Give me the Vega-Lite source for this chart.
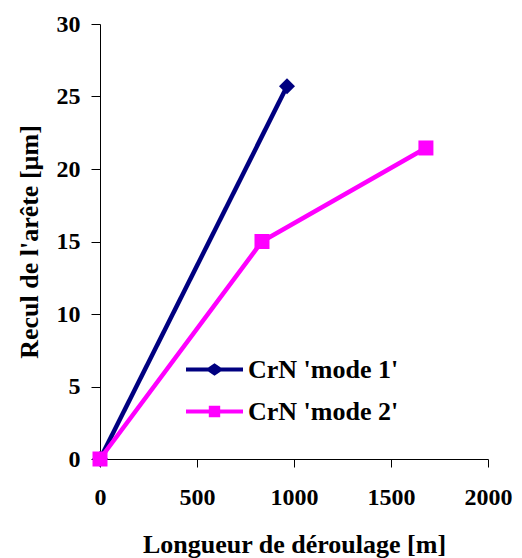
{
  "$schema": "https://vega.github.io/schema/vega-lite/v6.json",
  "width": 388,
  "height": 435,
  "autosize": {"type": "none"},
  "padding": {"left": 100, "top": 24, "right": 34, "bottom": 99},
  "background": "white",
  "config": {
    "view": {"stroke": null},
    "font": "Liberation Serif",
    "axis": {"grid": false, "domainColor": "black", "tickColor": "black"}
  },
  "data": {
    "values": [
      {"serie": "CrN 'mode 1'", "longueur": 0, "recul": 0},
      {"serie": "CrN 'mode 1'", "longueur": 964, "recul": 25.7},
      {"serie": "CrN 'mode 2'", "longueur": 0, "recul": 0},
      {"serie": "CrN 'mode 2'", "longueur": 835, "recul": 15},
      {"serie": "CrN 'mode 2'", "longueur": 1680, "recul": 21.45}
    ]
  },
  "encoding": {
    "x": {
      "field": "longueur",
      "type": "quantitative",
      "scale": {"domain": [0, 2000], "nice": false, "zero": true},
      "axis": {
        "title": "Longueur de déroulage [m]",
        "values": [0, 500, 1000, 1500, 2000],
        "format": "d",
        "tickSize": 8,
        "labelPadding": 18,
        "titlePadding": 22,
        "labelFlush": false,
        "labelFont": "Liberation Serif",
        "labelFontWeight": "bold",
        "labelFontSize": 24,
        "labelColor": "black",
        "titleFont": "Liberation Serif",
        "titleFontWeight": "bold",
        "titleFontSize": 26,
        "titleColor": "black"
      }
    },
    "y": {
      "field": "recul",
      "type": "quantitative",
      "scale": {"domain": [0, 30], "nice": false},
      "axis": {
        "title": "Recul de l'arête [µm]",
        "values": [0, 5, 10, 15, 20, 25, 30],
        "format": "d",
        "tickSize": 9,
        "labelPadding": 11,
        "titlePadding": 14,
        "labelFlush": false,
        "labelFont": "Liberation Serif",
        "labelFontWeight": "bold",
        "labelFontSize": 24,
        "labelColor": "black",
        "titleFont": "Liberation Serif",
        "titleFontWeight": "bold",
        "titleFontSize": 26,
        "titleColor": "black"
      }
    }
  },
  "layer": [
    {
      "mark": {"type": "line", "strokeWidth": 4.5},
      "encoding": {
        "color": {
          "field": "serie",
          "type": "nominal",
          "scale": {"domain": ["CrN 'mode 1'", "CrN 'mode 2'"], "range": ["#000080", "#FF00FF"]},
          "legend": null
        }
      }
    },
    {
      "mark": {"type": "point", "filled": true, "opacity": 1},
      "encoding": {
        "color": {
          "field": "serie",
          "type": "nominal",
          "scale": {"domain": ["CrN 'mode 1'", "CrN 'mode 2'"], "range": ["#000080", "#FF00FF"]},
          "legend": null
        },
        "shape": {
          "field": "serie",
          "type": "nominal",
          "scale": {"domain": ["CrN 'mode 1'", "CrN 'mode 2'"], "range": ["diamond", "square"]},
          "legend": null
        },
        "size": {
          "field": "serie",
          "type": "nominal",
          "scale": {"domain": ["CrN 'mode 1'", "CrN 'mode 2'"], "range": [256, 225]},
          "legend": null
        }
      }
    },
    {
      "transform": [{"filter": "datum.recul < 0"}],
      "mark": {"type": "point", "filled": true, "opacity": 1},
      "encoding": {
        "color": {
          "field": "serie",
          "type": "nominal",
          "scale": {"domain": ["CrN 'mode 1'", "CrN 'mode 2'"], "range": ["#000080", "#FF00FF"]},
          "legend": {
            "orient": "none",
            "legendX": 86,
            "legendY": 317,
            "title": null,
            "padding": 0,
            "symbolSize": 3249,
            "symbolStrokeWidth": 0,
            "labelOffset": 5,
            "rowPadding": -24,
            "labelLimit": 300,
            "labelFont": "Liberation Serif",
            "labelFontWeight": "bold",
            "labelFontSize": 26,
            "labelColor": "black"
          }
        },
        "shape": {
          "field": "serie",
          "type": "nominal",
          "scale": {
            "domain": ["CrN 'mode 1'", "CrN 'mode 2'"],
            "range": [
              "M-1,-0.07H-0.22L0,-0.22L0.22,-0.07H1V0.07H0.22L0,0.22L-0.22,0.07H-1Z",
              "M-1,-0.07H-0.2V-0.2H0.2V-0.07H1V0.07H0.2V0.2H-0.2V0.07H-1Z"
            ]
          },
          "legend": {
            "orient": "none",
            "legendX": 86,
            "legendY": 317,
            "title": null,
            "padding": 0,
            "symbolSize": 3249,
            "symbolStrokeWidth": 0,
            "labelOffset": 5,
            "rowPadding": -24,
            "labelLimit": 300,
            "labelFont": "Liberation Serif",
            "labelFontWeight": "bold",
            "labelFontSize": 26,
            "labelColor": "black"
          }
        }
      }
    }
  ],
  "resolve": {"scale": {"color": "independent", "shape": "independent", "size": "independent"}}
}
